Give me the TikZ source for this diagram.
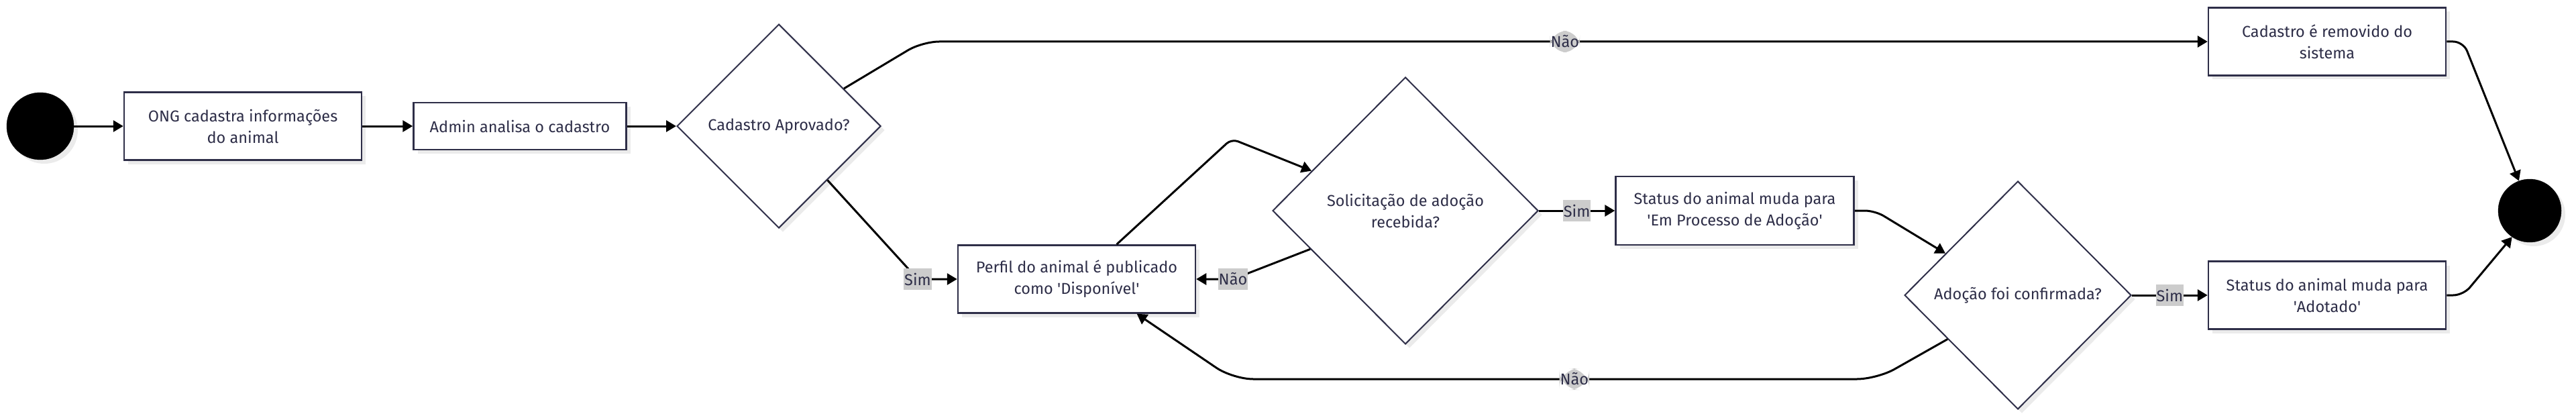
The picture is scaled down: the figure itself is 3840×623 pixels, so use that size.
\documentclass[tikz,border=0pt]{standalone}
\usepackage{fontspec}
\setmainfont{Fira Sans}
\usetikzlibrary{shapes.geometric,arrows.meta,shadows}

\definecolor{ink}{HTML}{2E2E48}
\definecolor{tagbg}{HTML}{CCCCCC}
\newcommand{\sq}{\textquotesingle}

\tikzset{
	soft shadow/.style={drop shadow={shadow xshift=6pt, shadow yshift=-6pt, fill=black!8, opacity=1}},
	box/.style={draw=ink, line width=2.5pt, fill=white, text=ink, align=center,
		minimum width=354pt, minimum height=101pt, inner sep=0pt, soft shadow},
	choice/.style={diamond, draw=ink, line width=2pt, fill=white, text=ink, align=center,
		inner sep=0pt, soft shadow},
	dot/.style={circle, fill=black, draw=black, inner sep=0pt, soft shadow},
	flow/.style={line width=3pt, -{Triangle[length=15pt,width=17pt]}},
	tag/.style={fill=tagbg, text=ink, inner xsep=1pt, inner ysep=0pt, minimum height=32pt}
}

\begin{document}
\begin{tikzpicture}[x=1pt, y=-1pt, font=\fontsize{23.5}{32}\selectfont]
		\useasboundingbox (0,0) rectangle (3840,623);
		% start and end
		\node[dot, minimum size=100pt] (start) at (60,188) {};
		\node[dot, minimum size=94pt] (stop) at (3771,314) {};
		% registration
		\node[box] (ong) at (362,188) {ONG cadastra informações\\do animal};
		\node[box, minimum width=317pt, minimum height=70pt] (admin) at (775,188) {Admin analisa o cadastro};
		\node[choice, minimum width=304pt, minimum height=304pt] (aprov) at (1161,188) {Cadastro Aprovado?};
		% adoption
		\node[box] (perfil) at (1605,416) {Perfil do animal é publicado\\como \sq Disponível\sq};
		\node[choice, minimum width=396pt, minimum height=398pt] (solic) at (2095,314) {Solicitação de adoção\\recebida?};
		\node[box, minimum width=355pt, minimum height=102pt] (emproc) at (2586,314) {Status do animal muda para\\\sq Em Processo de Adoção\sq};
		\node[choice, minimum width=338pt, minimum height=340pt] (confirma) at (3008,440) {Adoção foi confirmada?};
		% outcomes
		\node[box] (removido) at (3469,62) {Cadastro é removido do\\sistema};
		\node[box] (adotado) at (3469,440) {Status do animal muda para\\\sq Adotado\sq};
		% straight arrows
		\foreach \a/\b in {start/ong, ong/admin, admin/aprov}
		{
			\draw[flow] (\a) -- (\b);
		}
		% branches of the first choice
		\draw[flow, rounded corners=25pt] (aprov.30) -- (1375,62) -- node[tag] {Não} (removido.west);
		\draw[flow] (aprov.-48) -- (1368,416) node[tag] {Sim} -- (perfil.west);
		% waiting for a request
		\draw[flow, rounded corners=10pt] (perfil.41) -- (1836,207) -- (solic.157);
		\draw[flow] (solic.202) -- (1838,416) node[tag] {Não} -- (perfil.east);
		\draw[flow] (solic.east) -- node[tag] {Sim} (emproc.west);
		\draw[flow, rounded corners=15pt] (emproc.east) -- (2795,314) -- (confirma.150);
		% branches of the last choice
		\draw[flow] (confirma.east) -- node[tag] {Sim} (adotado.west);
		\draw[flow, rounded corners=30pt] (confirma.212) -- (2798,565) -- node[tag, pos=0.47] {Não} (1838,565) -- (perfil.-30);
		% to the end
		\draw[flow, rounded corners=15pt] (removido.east) -- (3672,62) -- (stop.110);
		\draw[flow, rounded corners=15pt] (adotado.east) -- (3672,440) -- (stop.236);
	\end{tikzpicture}
\end{document}
